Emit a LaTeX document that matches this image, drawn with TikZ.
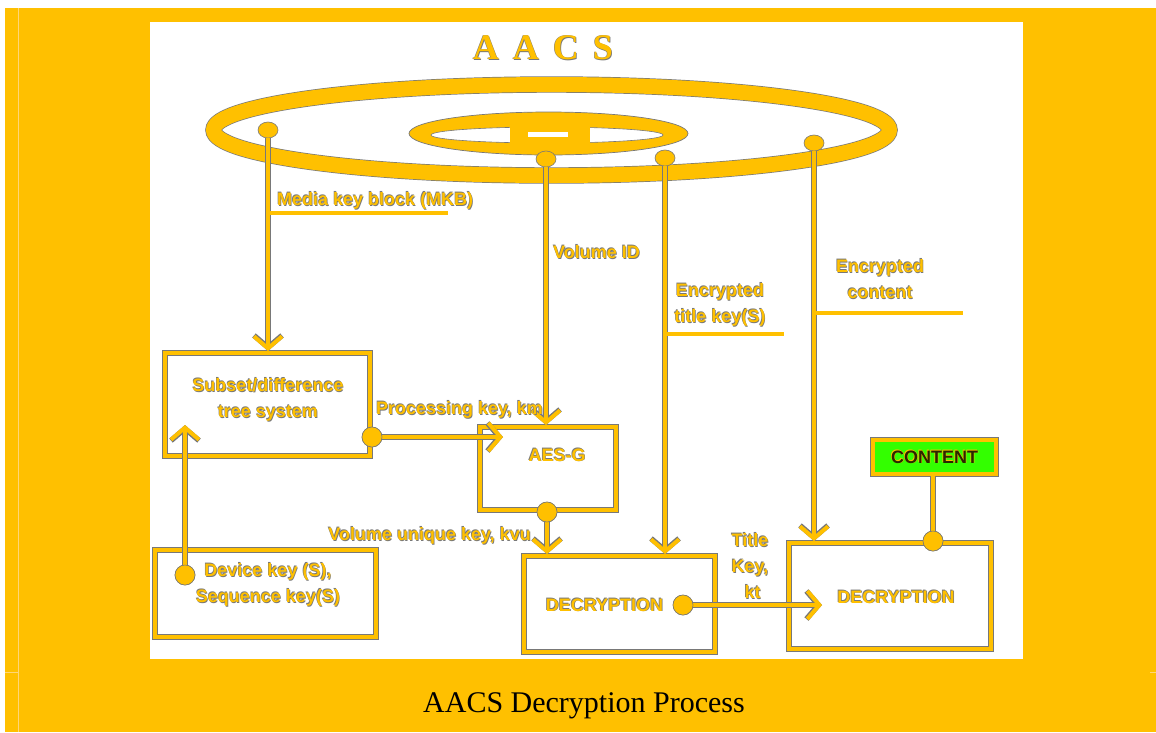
\documentclass[tikz,border=0pt]{standalone}
\usepackage{fontspec}
\setmainfont{Liberation Serif}
\newfontfamily\labfont{Liberation Sans}
\usetikzlibrary{arrows.meta,shapes.geometric}
\definecolor{yel}{RGB}{255,192,0}
\definecolor{shd}{RGB}{120,120,120}
\definecolor{grn}{RGB}{51,255,0}
\definecolor{faint}{RGB}{255,214,120}
\definecolor{dk}{RGB}{40,40,0}
\newcommand\ytx[1]{\rlap{\kern-0.7pt\raisebox{0.7pt}{\color{shd}#1}}\rlap{\kern0.7pt\raisebox{-0.7pt}{\color{shd}#1}}{\color{yel}#1}}
\newcommand\ktx[1]{\rlap{\kern-0.7pt\raisebox{0.7pt}{\color{yel}#1}}\rlap{\kern0.7pt\raisebox{-0.7pt}{\color{yel}#1}}{\color{dk}#1}}
\begin{document}
\begin{tikzpicture}[x=1pt,y=-1pt,
  conn/.style={draw=yel,line width=4pt,preaction={draw=shd,line width=5.4pt}},
  arr/.style={-{Straight Barb[length=12pt,width=28pt]}},
  uline/.style={draw=yel,line width=3.5pt,preaction={draw=shd,line width=4.8pt}},
  boxy/.style={rectangle,draw=yel,line width=4pt,preaction={draw=shd,line width=5.4pt},inner sep=0pt},
  dot/.style={circle,fill=yel,draw=shd,line width=0.6pt,minimum size=20pt,inner sep=0pt},
  pin/.style={ellipse,fill=yel,draw=shd,line width=0.6pt,minimum width=20pt,minimum height=16pt,inner sep=0pt},
  lab/.style={font=\labfont\bfseries\fontsize{18}{26}\selectfont,inner sep=0pt,align=center}]
\useasboundingbox (0,0) rectangle (1156,732);
% background
\fill[white] (0,0) rectangle (1156,732);
\fill[yel] (5,8) rectangle (1156,732);
\draw[faint,line width=0.8pt] (18,8) -- (18,732);
\draw[faint,line width=0.8pt] (5,672) -- (18,672);
\draw[faint,line width=0.8pt] (1150,672) -- (1156,672);
\fill[white] (150,22) rectangle (1023,659);
% title
\node[font=\bfseries\fontsize{36}{40}\selectfont,inner sep=0pt] (title) at (543,48)
  {\ytx{A\hspace{14pt}A\hspace{14pt}C\hspace{14pt}S}};
% disc
\draw[draw=shd,line width=16.4pt] (551.5,130) ellipse [x radius=338, y radius=45.5];
\draw[draw=yel,line width=15pt] (551.5,130) ellipse [x radius=338, y radius=45.5];
\filldraw[fill=yel,draw=shd,line width=0.7pt] (548.5,133.5) ellipse [x radius=139.5, y radius=21.5];
\filldraw[fill=white,draw=shd,line width=0.6pt] (547,135) ellipse [x radius=116, y radius=8];
\fill[yel] (510,124) rectangle (590,146);
\fill[white] (528,132) rectangle (568,137);
% pins
\node[pin] (pinA) at (268,130) {};
\node[pin] (drop1) at (546,159) {};
\node[pin] (drop2) at (665,158) {};
\node[pin] (pinB) at (814,143) {};
% boxes
\node[boxy,minimum width=205pt,minimum height=103pt] (subset) at (267.5,404.5) {};
\node[boxy,minimum width=136pt,minimum height=83pt] (aes) at (548,468.5) {};
\node[boxy,minimum width=221pt,minimum height=87pt] (device) at (265.5,593.5) {};
\node[boxy,minimum width=191pt,minimum height=96pt] (dec1) at (619.5,604) {};
\node[boxy,minimum width=202pt,minimum height=106pt] (dec2) at (890,596) {};
\node[boxy,fill=grn,minimum width=123pt,minimum height=34pt,lab] (content) at (934.5,457) {\ktx{CONTENT}};
% box texts
\node[lab] (subsettxt) at (268,400) {\ytx{Subset/difference}\\\ytx{tree system}};
\node[lab] (aestxt) at (557,455) {\ytx{AES-G}};
\node[lab] (devicetxt) at (268,585) {\ytx{Device key (S),}\\\ytx{Sequence key(S)}};
\node[lab] (dec1txt) at (604.5,605) {\ytx{DECRYPTION}};
\node[lab] (dec2txt) at (896,597) {\ytx{DECRYPTION}};
% dots
\node[dot] (pk) at (372,437) {};
\node[dot] (vu) at ([xshift=-1pt]aes.south) {};
\node[dot] (dkey) at (185,575) {};
\node[dot] (tk) at (683,605) {};
\node[dot] (cd) at ([xshift=43pt]dec2.north) {};
% connectors
\draw[conn,arr] (pinA) -- (pinA |- subset.north);
\draw[conn,arr] (drop1) -- (drop1 |- aes.north);
\draw[conn,arr] (drop2) -- (drop2 |- dec1.north);
\draw[conn,arr] (pinB) -- (pinB |- dec2.north);
\draw[conn,arr] (pk) -- ([xshift=25pt]pk -| aes.west);
\draw[conn,arr] (vu) -- (vu |- dec1.north);
\draw[conn,arr] (dkey) -- ([yshift=33pt]dkey |- subset.south);
\draw[conn,arr] (tk) -- ([xshift=35pt]tk -| dec2.west);
\draw[conn] (cd) -- (cd |- content.south);
\node[dot] at (pk) {};
\node[dot] at (vu) {};
\node[dot] at (dkey) {};
\node[dot] at (tk) {};
\node[dot] at (cd) {};
% underlines
\coordinate (mkbend) at (448,213);
\coordinate (tkend) at (784,334);
\coordinate (ccend) at (963,313);
\draw[uline] (pinA |- mkbend) -- (mkbend);
\draw[uline] (drop2 |- tkend) -- (tkend);
\draw[uline] (pinB |- ccend) -- (ccend);
% labels
\node[lab,anchor=west] (mkblab) at (277,201) {\ytx{Media key block (MKB)}};
\node[lab,anchor=west] (vidlab) at (553,252) {\ytx{Volume ID}};
\node[lab] (etklab) at (720,305) {\ytx{Encrypted}\\\ytx{title key(S)}};
\node[lab] (eclab) at (880,279) {\ytx{Encrypted}\\\ytx{content}};
\node[lab,anchor=west] (pklab) at (376,410) {\ytx{Processing key, km}};
\node[lab,anchor=east] (vuklab) at (531,536) {\ytx{Volume unique key, kvu}};
\node[lab] (tklab) at (750,566) {\ytx{Title}\\\ytx{Key,}\\\ytx{\ kt}};
% caption
\node[font=\fontsize{30}{34}\selectfont,inner sep=0pt] (caption) at (584,706) {AACS Decryption Process};
\end{tikzpicture}
\end{document}
